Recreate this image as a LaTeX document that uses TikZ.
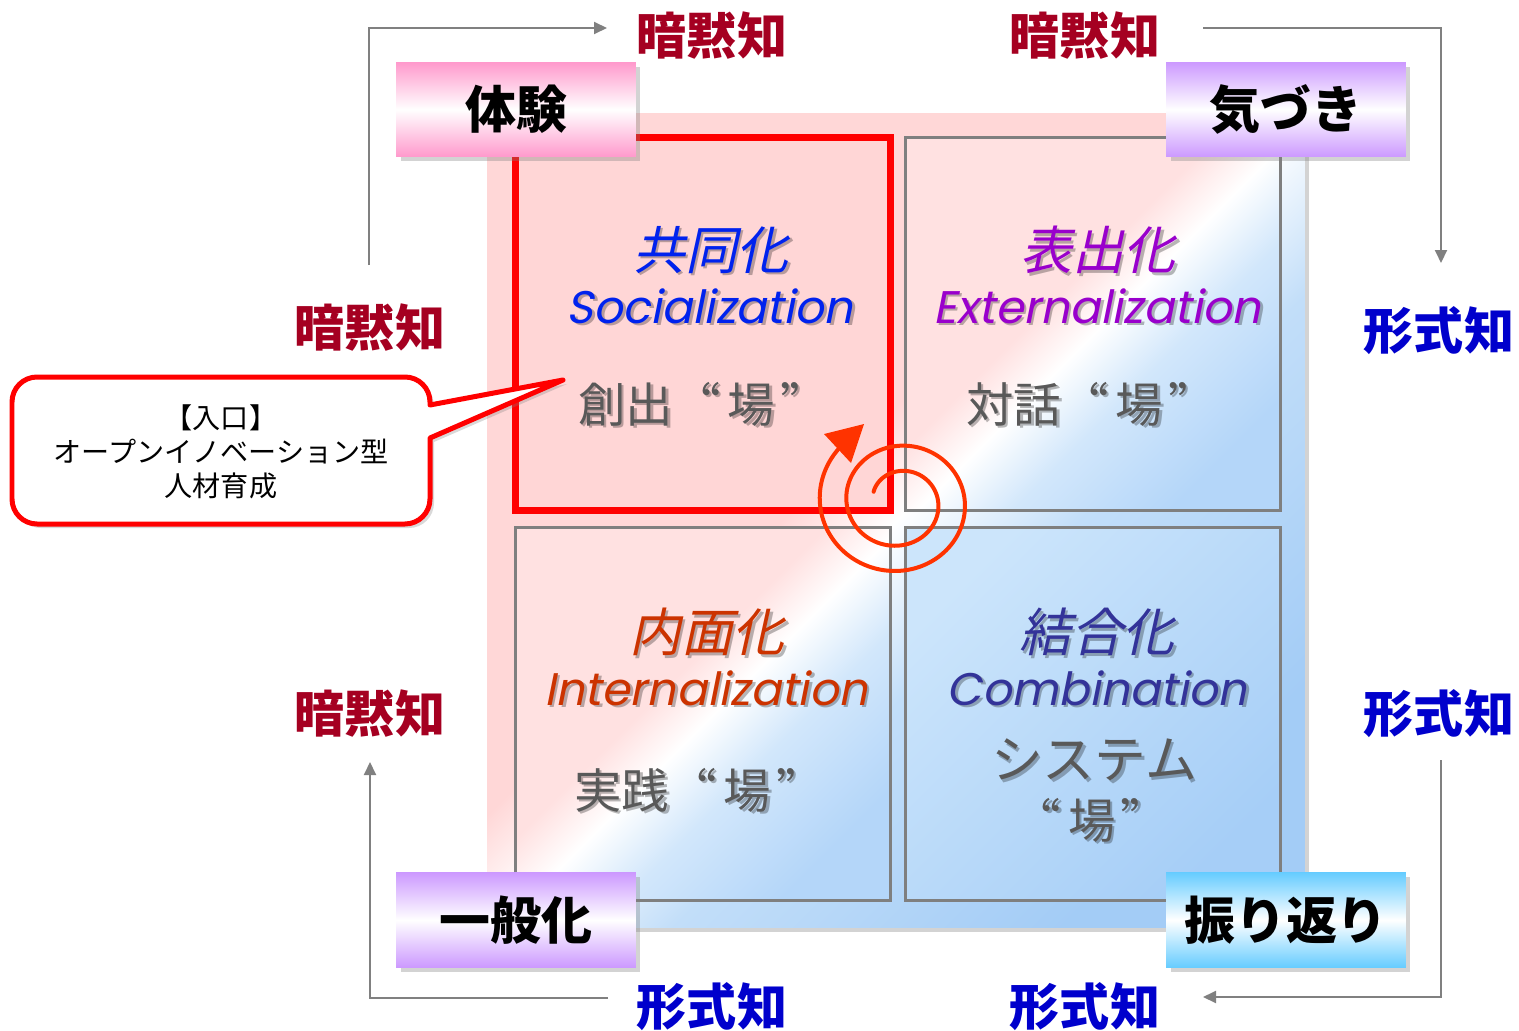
\documentclass[tikz,border=0pt]{standalone}
\usepackage{fontspec}
\usetikzlibrary{arrows.meta,shadows}
\newfontfamily\jp{Noto Sans CJK JP}
\newfontfamily\jpfw[CharacterWidth=Full]{Noto Sans CJK JP}
\newfontfamily\jpsl[FakeSlant=0.22]{Noto Sans CJK JP}
\newfontfamily\latsl[FakeSlant=0.2]{Poppins}

\definecolor{tacitc}{HTML}{A50021}
\definecolor{explc}{HTML}{0000CC}
\definecolor{arrowgray}{HTML}{808080}
\definecolor{quadgray}{HTML}{7F7F7F}
\definecolor{bgpink}{HTML}{FFD7D7}
\definecolor{bgblueA}{HTML}{C2DEF9}
\definecolor{bgblueB}{HTML}{A3CCF6}
\definecolor{qpink}{HTML}{FFE1E1}
\definecolor{qblueA}{HTML}{D2E7FB}
\definecolor{qblueB}{HTML}{B4D6F9}
\definecolor{tlpink}{HTML}{FFD6D6}
\definecolor{brA}{HTML}{CCE5FB}
\definecolor{brB}{HTML}{A6CEF7}
\definecolor{lpink}{HTML}{FF99CC}
\definecolor{lpurple}{HTML}{CC99FF}
\definecolor{lblue}{HTML}{66CCFF}
\definecolor{socblue}{HTML}{0022EE}
\definecolor{extpurple}{HTML}{9900CC}
\definecolor{intred}{HTML}{CC3300}
\definecolor{comblue}{HTML}{333399}
\definecolor{bagray}{HTML}{595959}
\definecolor{spiralc}{HTML}{FF3300}

\pgfdeclarehorizontalshading{quadshade}{100bp}{color(0bp)=(qpink); color(44bp)=(qpink); color(51bp)=(white); color(60bp)=(qblueA); color(75bp)=(qblueB); color(100bp)=(qblueB)}
\pgfdeclarehorizontalshading{bgshade}{100bp}{color(0bp)=(bgpink); color(45bp)=(bgpink); color(50bp)=(white); color(58bp)=(bgblueA); color(75bp)=(bgblueB); color(100bp)=(bgblueB)}
\pgfdeclarehorizontalshading{brshade}{100bp}{color(0bp)=(brA); color(25bp)=(brA); color(75bp)=(brB); color(100bp)=(brB)}

\newcommand\shtxt[4]{%
  \node[#2, text=black, text opacity=0.28, xshift=0.05cm, yshift=-0.05cm] (#1-sh) at (#3) {#4};
  \node[#2] (#1) at (#3) {#4};}
\newcommand\ba[1]{“\kern0.15em#1\kern0.1em”}

\tikzset{
  lbox/.style={minimum width=4.8cm, minimum height=1.9cm, inner sep=0pt,
    font=\jp\bfseries\fontsize{29pt}{31pt}\selectfont,
    drop shadow={shadow xshift=0.09cm, shadow yshift=-0.09cm, opacity=0.35}},
  quad/.style={minimum width=7.52cm, minimum height=7.48cm, inner sep=0pt, draw=quadgray, line width=0.06cm},
  tacit/.style={font=\jp\bfseries\fontsize{28.5pt}{30pt}\selectfont, text=tacitc, inner sep=0pt},
  expl/.style={font=\jp\bfseries\fontsize{28.5pt}{30pt}\selectfont, text=explc, inner sep=0pt},
  hdr/.style={font=\jpsl\fontsize{29.5pt}{31pt}\selectfont, inner sep=0pt},
  eng/.style={font=\latsl\fontsize{26pt}{28pt}\selectfont, inner sep=0pt},
  ba/.style={font=\jpfw\fontsize{27pt}{29pt}\selectfont, text=bagray, inner sep=0pt},
  sys/.style={font=\jpfw\fontsize{29.5pt}{31pt}\selectfont, text=bagray, inner sep=0pt},
  garrow/.style={draw=arrowgray, line width=0.04cm, -{Triangle[length=0.26cm,width=0.24cm]}},
  spiralline/.style={draw=spiralc, line width=0.08cm, line cap=round},
  callout/.style={draw=red, line width=0.1cm, fill=white, line join=round,
    drop shadow={shadow xshift=0.08cm, shadow yshift=-0.08cm, opacity=0.3}},
}

\begin{document}
\begin{tikzpicture}[x=0.02cm, y=-0.02cm]
\useasboundingbox (0,0) rectangle (1519,1031);

% background square
\node[minimum width=16.36cm, minimum height=16.3cm, inner sep=0pt, shade, shading=bgshade, shading angle=-45,
  drop shadow={shadow xshift=0.08cm, shadow yshift=-0.08cm, opacity=0.35}] (bg) at (896,520.5) {};

% quadrants
\node[quad, shade, shading=quadshade, shading angle=-45] (qtr) at (1093,324) {};
\node[quad, shade, shading=quadshade, shading angle=-45] (qbl) at (703,714) {};
\node[quad, shade, shading=brshade, shading angle=-45] (qbr) at (1093,714) {};
\node[quad, fill=tlpink, draw=red, line width=0.14cm] (qtl) at (703,324) {};

% spiral
\draw[spiralline] plot[domain=203:943, samples=300, smooth, variable=\t]
  ({899+(39.2+0.074*(\t-360))*cos(\t)}, {502+0.95*(39.2+0.074*(\t-360))*sin(\t)});
\coordinate (tipA) at (864,424);
\coordinate (tipB) at (824,434);
\coordinate (tipC) at (851,463);
\fill[spiralc] (tipA) -- (tipB) -- (tipC) -- cycle;

% quadrant texts
\shtxt{h1}{hdr, text=socblue}{711,250}{共同化}
\shtxt{en1}{eng, text=socblue}{710,306}{Socialization}
\shtxt{b1}{ba}{703,404}{創出\ba{場}}
\shtxt{h2}{hdr, text=extpurple}{1098,250}{表出化}
\shtxt{en2}{eng, text=extpurple}{1097,306}{Externalization}
\shtxt{b2}{ba}{1091,404}{対話\ba{場}}
\shtxt{h3}{hdr, text=intred}{707,632}{内面化}
\shtxt{en3}{eng, text=intred}{706,688}{Internalization}
\shtxt{b3}{ba}{699,790}{実践\ba{場}}
\shtxt{h4}{hdr, text=comblue}{1097,632}{結合化}
\shtxt{en4}{eng, text=comblue}{1097,688}{Combination}
\shtxt{b4}{sys}{1094,760}{システム}
\shtxt{b5}{ba}{1091,820}{\ba{場}}

% corner label boxes
\node[lbox, top color=lpink, bottom color=lpink, middle color=white] (taiken) at (516,109.5) {体験};
\node[lbox, top color=lpurple, bottom color=lpurple, middle color=white] (kizuki) at (1286,109.5) {気づき};
\node[lbox, top color=lpurple, bottom color=lpurple, middle color=white] (ippan) at (516,920) {一般化};
\node[lbox, top color=lblue, bottom color=lblue, middle color=white] (furikaeri) at (1286,920) {振り返り};

% tacit / explicit labels
\node[tacit] (t1) at (712,36) {暗黙知};
\node[tacit] (t2) at (1085,36) {暗黙知};
\node[tacit] (t3) at (370,328) {暗黙知};
\node[tacit] (t4) at (370,714) {暗黙知};
\node[expl] (x1) at (1439,331) {形式知};
\node[expl] (x2) at (1439,714) {形式知};
\node[expl] (x3) at (712,1007) {形式知};
\node[expl] (x4) at (1085,1007) {形式知};

% gray arrows
\coordinate (a1s) at (369,265); \coordinate (a1e) at (607,28);
\coordinate (a2s) at (1203,28); \coordinate (a2e) at (1441,263);
\coordinate (a3s) at (1441,760); \coordinate (a3e) at (1203,997);
\coordinate (a4s) at (608,998); \coordinate (a4e) at (370,762);
\draw[garrow] (a1s) |- (a1e);
\draw[garrow] (a2s) -| (a2e);
\draw[garrow] (a3s) |- (a3e);
\draw[garrow] (a4s) -| (a4e);

% callout
\draw[callout] (430,438) -- (430,499) arc[start angle=0, end angle=90, radius=25]
  -- (37,524) arc[start angle=90, end angle=180, radius=25]
  -- (12,402) arc[start angle=180, end angle=270, radius=25]
  -- (405,377) arc[start angle=270, end angle=360, radius=25]
  -- (430,405) -- (563,380) -- cycle;
\node[font=\jp\fontsize{16pt}{19.5pt}\selectfont, align=center, inner sep=0pt] (calltext) at (221,452)
  {【入口】\\オープンイノベーション型\\人材育成};
\end{tikzpicture}
\end{document}
